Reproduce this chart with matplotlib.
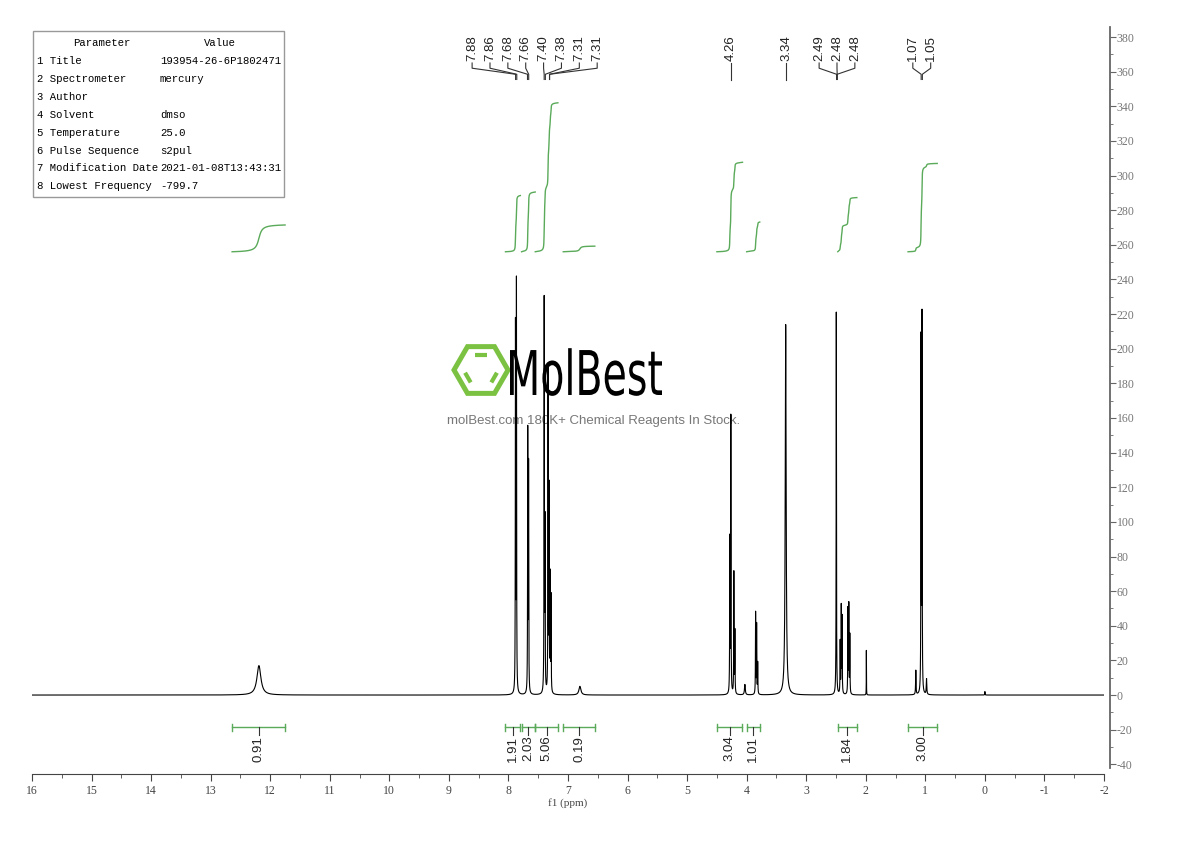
import numpy as np
import matplotlib
matplotlib.use("Agg")
import matplotlib.pyplot as plt
from matplotlib.patches import Rectangle, RegularPolygon, PathPatch
from matplotlib.textpath import TextPath
from matplotlib.font_manager import FontProperties
from matplotlib.transforms import Affine2D
from matplotlib.ticker import MultipleLocator

plt.rcParams["axes.unicode_minus"] = False

# peak list (ppm, height, half width)
peak_ppm = [12.19, 7.882, 7.866, 7.676, 7.662, 7.400, 7.386, 7.335, 7.318, 7.300, 7.285, 6.80,
            4.283, 4.266, 4.215, 4.198, 4.03, 3.850, 3.833, 3.815, 3.345,
            2.495, 2.430, 2.412, 2.398, 2.300, 2.285, 2.268, 1.99, 1.16, 1.072, 1.056, 0.98, 0.0]
peak_height = [17, 210, 236, 150, 130, 226, 95, 186, 116, 66, 55, 5,
               88, 160, 70, 36, 6, 47, 40, 18, 214,
               221, 30, 50, 44, 49, 51, 34, 26, 14, 203, 216, 9, 2]
peak_hw = [0.04, 0.003, 0.003, 0.003, 0.003, 0.003, 0.003, 0.003, 0.003, 0.003, 0.003, 0.02,
           0.003, 0.003, 0.003, 0.003, 0.008, 0.003, 0.003, 0.003, 0.009,
           0.003, 0.003, 0.003, 0.003, 0.003, 0.003, 0.003, 0.0015, 0.004, 0.003, 0.003, 0.005, 0.003]

# peak picking labels
label_vals = [7.88, 7.86, 7.68, 7.66, 7.40, 7.38, 7.31, 7.31, 4.26, 3.34, 2.49, 2.48, 2.48, 1.07, 1.05]
label_groups = [[0, 1, 2, 3, 4, 5, 6, 7], [8], [9], [10, 11, 12], [13, 14]]

# integrals: (start ppm, end ppm, value)
int_start = [12.64, 8.05, 7.78, 7.55, 7.08, 4.50, 4.00, 2.47, 1.29]
int_end = [11.75, 7.80, 7.55, 7.17, 6.55, 4.07, 3.78, 2.15, 0.80]
int_vals = [0.91, 1.91, 2.03, 5.06, 0.19, 3.04, 1.01, 1.84, 3.00]

param_names = ["Title", "Spectrometer", "Author", "Solvent", "Temperature",
               "Pulse Sequence", "Modification Date", "Lowest Frequency"]
param_values = ["193954-26-6P1802471", "mercury", "", "dmso", "25.0",
                "s2pul", "2021-01-08T13:43:31", "-799.7"]

green = "#5aaa5a"
sans = "Liberation Sans"
serif = "Liberation Serif"

ppm = np.linspace(16, -2, 40001)
spec = np.zeros_like(ppm)
for p, h, w in zip(peak_ppm, peak_height, peak_hw):
    spec += h / (1 + ((ppm - p) / w) ** 2)

fig = plt.figure(figsize=(11.9, 8.41), dpi=100)

# overlay in pixel coords for table and watermark
ov = fig.add_axes([0, 0, 1, 1])
ov.set_xlim(0, 1190)
ov.set_ylim(841, 0)
ov.axis("off")
ov.set_zorder(0)

ax = fig.add_axes([32 / 1190, 1 - 774 / 841, 1072 / 1190, 747 / 841])
ax.set_zorder(1)
ax.patch.set_alpha(0)

# watermark logo
cx, cy, r = 481, 370, 27
ov.add_patch(RegularPolygon((cx, cy), 6, radius=r, orientation=np.pi / 6,
                            fill=False, ec="#7cc242", lw=3.6))
ri = 17.5
for a1, a2 in [(60, 120), (180, 240), (300, 360)]:
    p1 = np.array([cx + ri * np.cos(np.radians(a1)), cy - ri * np.sin(np.radians(a1))])
    p2 = np.array([cx + ri * np.cos(np.radians(a2)), cy - ri * np.sin(np.radians(a2))])
    q1 = p1 + 0.18 * (p2 - p1)
    q2 = p2 - 0.18 * (p2 - p1)
    ov.plot([q1[0], q2[0]], [q1[1], q2[1]], color="#7cc242", lw=3, solid_capstyle="butt")

tp = TextPath((0, 0), "MolBest", size=1, prop=FontProperties(family="DejaVu Sans"))
ext = tp.get_extents()
sx = 152 / ext.width
sy = 45 / 0.73
tr = Affine2D().translate(-ext.x0, 0).scale(sx, -sy).translate(510, 395)
ov.add_patch(PathPatch(tr.transform_path(tp), fc="black", ec="none"))
ov.text(594, 421, "molBest.com 180K+ Chemical Reagents In Stock.", ha="center", va="center",
        fontsize=9.5, color="#777777", family=sans)

# parameter table
ov.add_patch(Rectangle((33, 31), 251, 166, fill=False, ec="#999999", lw=1))
ov.text(102, 43, "Parameter", ha="center", va="center", fontsize=7.7, family="Liberation Mono")
ov.text(220, 43, "Value", ha="center", va="center", fontsize=7.7, family="Liberation Mono")
for i, (n, v) in enumerate(zip(param_names, param_values)):
    y = 61 + 17.9 * i
    ov.text(37, y, f"{i + 1} {n}", ha="left", va="center", fontsize=7.7, family="Liberation Mono")
    ov.text(160, y, v, ha="left", va="center", fontsize=7.7, family="Liberation Mono")

# spectrum
ax.plot(ppm, spec, color="black", lw=0.8, zorder=3)

# integral curves and bars
for s, e, v in zip(int_start, int_end, int_vals):
    m = (ppm <= s) & (ppm >= e)
    c = np.cumsum(spec[m])
    c = c / c[-1]
    ax.plot(ppm[m], 256 + 17 * v * c, color=green, lw=1)
    ax.plot([s, e], [-18.5, -18.5], color=green, lw=1)
    ax.plot([s, s], [-16.5, -20.5], color=green, lw=1)
    ax.plot([e, e], [-16.5, -20.5], color=green, lw=1)
    mid = (s + e) / 2
    ax.plot([mid, mid], [-18.5, -23], color="#333333", lw=0.8)
    ax.text(mid, -23.5, f"{v:.2f}", rotation=90, ha="center", va="top",
            fontsize=9.5, family=sans, color="#222222")

# peak labels
spacing = 0.3
for g in label_groups:
    n = len(g)
    center = np.mean([label_vals[k] for k in g])
    for j, k in enumerate(g):
        lx = center + ((n - 1) / 2 - j) * spacing
        px = label_vals[k]
        ax.text(lx, 366, f"{label_vals[k]:.2f}", rotation=90, ha="center", va="bottom",
                fontsize=9.5, family=sans, color="#222222")
        if n == 1:
            ax.plot([px, px], [365, 355], color="#333333", lw=0.8)
        else:
            ax.plot([lx, lx, px, px], [365, 362, 358.5, 355.5], color="#333333", lw=0.8)

ax.set_xlim(16, -2)
ax.set_ylim(-45.6, 385.8)

for s in ["top", "left"]:
    ax.spines[s].set_visible(False)
ax.spines["right"].set_position(("outward", 4))
ax.spines["right"].set_bounds(-42, 385.8)
ax.spines["right"].set_color("#666666")
ax.spines["right"].set_linewidth(1.3)
ax.spines["bottom"].set_color("#444444")
ax.yaxis.tick_right()
ax.xaxis.set_major_locator(MultipleLocator(1))
ax.xaxis.set_minor_locator(MultipleLocator(0.5))
ax.yaxis.set_minor_locator(MultipleLocator(10))
ax.tick_params(axis="x", which="major", length=5, color="#444444", labelsize=8.5,
               labelcolor="#444444", pad=3)
ax.tick_params(axis="x", which="minor", length=3, color="#444444")
ax.tick_params(axis="y", which="major", length=4, color="#666666", labelsize=8.5,
               labelcolor="#777777", pad=1)
ax.tick_params(axis="y", which="minor", length=2, color="#666666")
ax.set_yticks(np.arange(-40, 381, 20))
ax.set_xticks(np.arange(-2, 17, 1))
for lab in ax.get_xticklabels() + ax.get_yticklabels():
    lab.set_family(serif)
ax.set_xlabel("f1 (ppm)", family=serif, fontsize=8, color="#444444", labelpad=1)

fig.savefig("out.png", dpi=100)
